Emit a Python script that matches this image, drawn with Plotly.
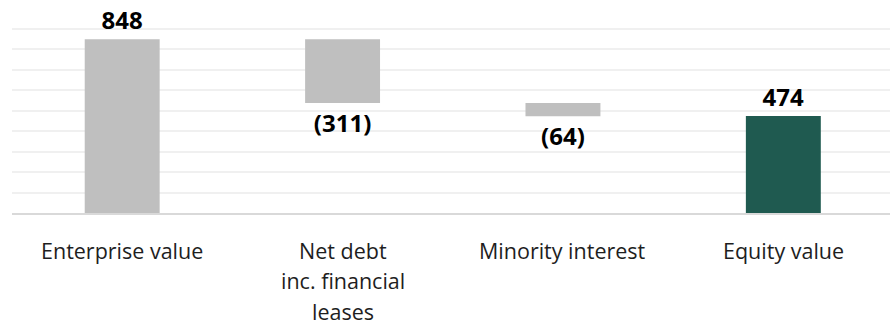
import plotly.graph_objects as go

categories = ["Enterprise value", "Net debt<br>inc. financial<br>leases", "Minority interest", "Equity value"]
values = [848, -311, -64, 474]
measures = ["relative", "relative", "relative", "absolute"]
value_labels = ["848", "(311)", "(64)", "474"]

GREY = "#bfbfbf"
GREEN = "#1f5a50"

fig = go.Figure()
fig.add_trace(go.Waterfall(
    x=list(range(len(categories))),
    y=values,
    measure=measures,
    text=value_labels,
    textposition="outside",
    outsidetextfont=dict(family="Open Sans", size=24, color="#000000", weight="bold"),
    increasing=dict(marker=dict(color=GREY)),
    decreasing=dict(marker=dict(color=GREY)),
    totals=dict(marker=dict(color=GREEN)),
    connector=dict(visible=False),
    width=0.34,
    cliponaxis=False,
    hoverinfo="skip",
))

annotations = []
for i, cat in enumerate(categories):
    for j, line in enumerate(cat.split("<br>")):
        annotations.append(dict(
            x=i, y=0, xref="x", yref="y",
            text=line, showarrow=False,
            xanchor="center", yanchor="middle",
            borderpad=0,
            yshift=-37 - 30.5 * j,
            font=dict(family="Open Sans", size=21.5, color="#1e1e1e"),
        ))

fig.update_layout(
    width=890, height=326,
    margin=dict(l=12, r=0, t=8, b=113),
    paper_bgcolor="white", plot_bgcolor="white",
    showlegend=False,
    annotations=annotations,
    xaxis=dict(range=[-0.5, 3.484], showticklabels=False, ticks="",
               showgrid=False, zeroline=False,
               showline=True, linecolor="#d9d9d9", linewidth=2),
    yaxis=dict(range=[0, 1001], dtick=100, showticklabels=False, ticks="",
               showgrid=True, gridcolor="#f0f0f0", gridwidth=1.5,
               zeroline=False, showline=False),
)

fig.write_html("out.html")
